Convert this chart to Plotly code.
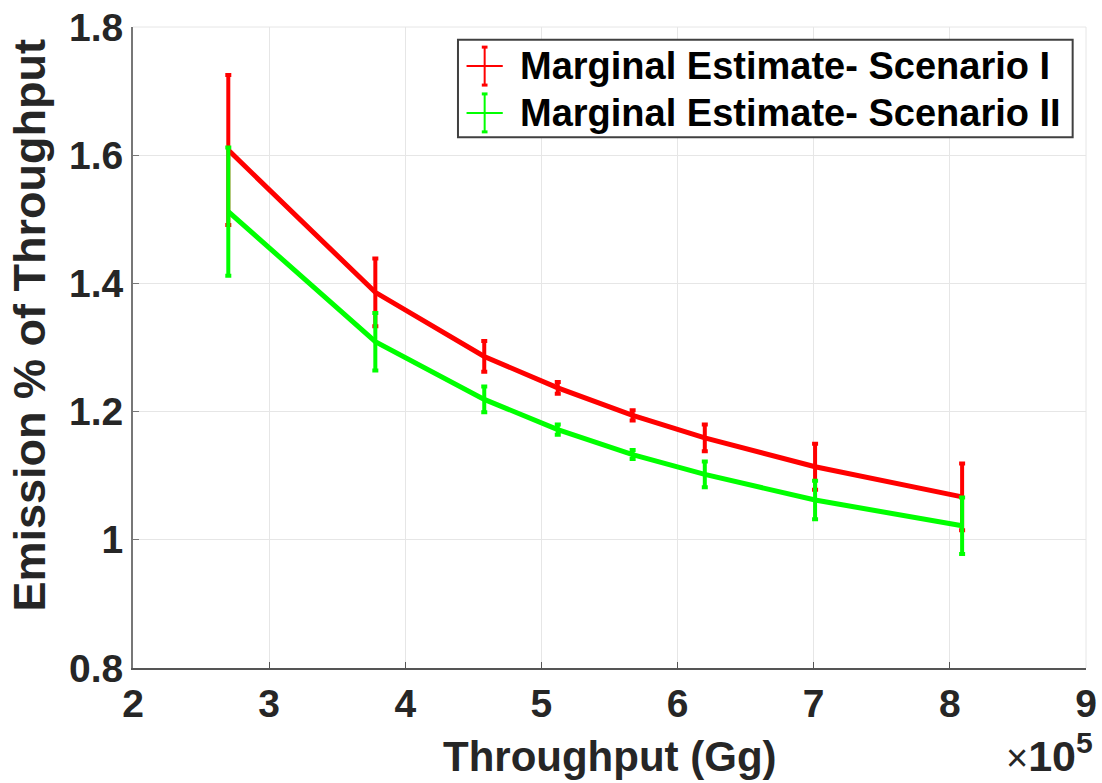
import plotly.graph_objects as go

# ---- data ----
throughput = [270000, 378000, 458000, 512000, 567000, 620000, 701000, 809000]
scenario1 = [1.608, 1.386, 1.286, 1.237, 1.194, 1.159, 1.114, 1.067]
scenario1_err = [0.117, 0.053, 0.024, 0.009, 0.008, 0.021, 0.036, 0.052]
scenario2 = [1.512, 1.309, 1.219, 1.172, 1.133, 1.102, 1.062, 1.022]
scenario2_err = [0.100, 0.045, 0.020, 0.008, 0.007, 0.020, 0.030, 0.044]
series_names = ["Marginal Estimate- Scenario I", "Marginal Estimate- Scenario II"]
series_colors = ["#ff0000", "#00ff00"]
x_tickvals = [200000, 300000, 400000, 500000, 600000, 700000, 800000, 900000]
x_ticktext = ["2", "3", "4", "5", "6", "7", "8", "9"]
y_tickvals = [0.8, 1.0, 1.2, 1.4, 1.6, 1.8]
y_ticktext = ["0.8", "1", "1.2", "1.4", "1.6", "1.8"]

FONT = "Liberation Sans, Arial, sans-serif"
TXT = "#262626"

fig = go.Figure()
for ys, es, name, col in [(scenario1, scenario1_err, series_names[0], series_colors[0]),
                          (scenario2, scenario2_err, series_names[1], series_colors[1])]:
    fig.add_trace(go.Scatter(
        x=throughput, y=ys, name=name, mode="lines",
        line=dict(color=col, width=5),
        error_y=dict(type="data", array=es, visible=True, color=col, thickness=4, width=3),
        showlegend=False,
    ))

fig.update_layout(
    width=1102, height=783,
    margin=dict(l=133, r=16, t=27, b=115),
    paper_bgcolor="white", plot_bgcolor="white",
    font=dict(family=FONT, color=TXT),
)
fig.update_xaxes(
    range=[200000, 900000], tickvals=x_tickvals, ticktext=x_ticktext,
    showgrid=True, gridcolor="#e6e6e6", gridwidth=1,
    showline=True, linecolor="#555555", linewidth=2, mirror=False,
    ticks="inside", ticklen=6, tickcolor="#555555",
    tickfont=dict(size=39, family=FONT, color=TXT, weight="bold"),
    zeroline=False, automargin=False,
)
fig.update_yaxes(
    range=[0.8, 1.8], tickvals=y_tickvals, ticktext=y_ticktext,
    showgrid=True, gridcolor="#e6e6e6", gridwidth=1,
    showline=True, linecolor="#777777", linewidth=2, mirror=False,
    ticks="inside", ticklen=6, tickcolor="#777777",
    tickfont=dict(size=39, family=FONT, color=TXT, weight="bold"),
    zeroline=False, automargin=False,
)

# top/right light border (box off with grid)
fig.add_shape(type="line", xref="paper", yref="paper", x0=0, x1=1, y0=1, y1=1,
              line=dict(color="#e6e6e6", width=1))
fig.add_shape(type="line", xref="paper", yref="paper", x0=1, x1=1, y0=0, y1=1,
              line=dict(color="#e6e6e6", width=1))

# axis titles
fig.add_annotation(text="<b>Throughput (Gg)</b>", xref="paper", yref="paper",
                   x=0.5, y=0, yshift=-88, showarrow=False, yanchor="middle",
                   font=dict(size=42, family=FONT, color=TXT))
fig.add_annotation(text="<b>Emission % of Throughput</b>", xref="paper", yref="paper",
                   x=0, xshift=-104, y=0.5, yshift=22, showarrow=False, textangle=-90,
                   xanchor="center", yanchor="middle",
                   font=dict(size=45, family=FONT, color=TXT))
fig.add_annotation(text='<span style="font-size:38px">×</span><b>10<sup>5</sup></b>',
                   xref="paper", yref="paper",
                   x=1, xshift=8, y=0, yshift=-113, showarrow=False, borderpad=0,
                   xanchor="right", yanchor="bottom",
                   font=dict(size=43, family=FONT, color=TXT))

# legend (manual, MATLAB-style errorbar glyphs)
L0, L1 = 0.341, 0.986
fig.add_shape(type="rect", xref="paper", yref="paper", x0=L0, x1=L1, y0=0.828, y1=0.980,
              line=dict(color="#404040", width=2), fillcolor="white", layer="above")
for yc, name, col in [(0.939, series_names[0], series_colors[0]),
                      (0.866, series_names[1], series_colors[1])]:
    fig.add_shape(type="line", xref="paper", yref="paper", x0=0.350, x1=0.388, y0=yc, y1=yc,
                  line=dict(color=col, width=2), layer="above")
    fig.add_shape(type="line", xref="paper", yref="paper", x0=0.369, x1=0.369,
                  y0=yc - 0.0296, y1=yc + 0.0296, line=dict(color=col, width=2), layer="above")
    for yy in (yc - 0.0296, yc + 0.0296):
        fig.add_shape(type="line", xref="paper", yref="paper", x0=0.366, x1=0.372,
                      y0=yy, y1=yy, line=dict(color=col, width=3), layer="above")
    fig.add_annotation(text="<b>" + name + "</b>", xref="paper", yref="paper",
                       x=0.404, y=yc, xanchor="left", yanchor="middle", showarrow=False,
                       font=dict(size=38, family=FONT, color="#000000"))

fig.write_html("out.html")
